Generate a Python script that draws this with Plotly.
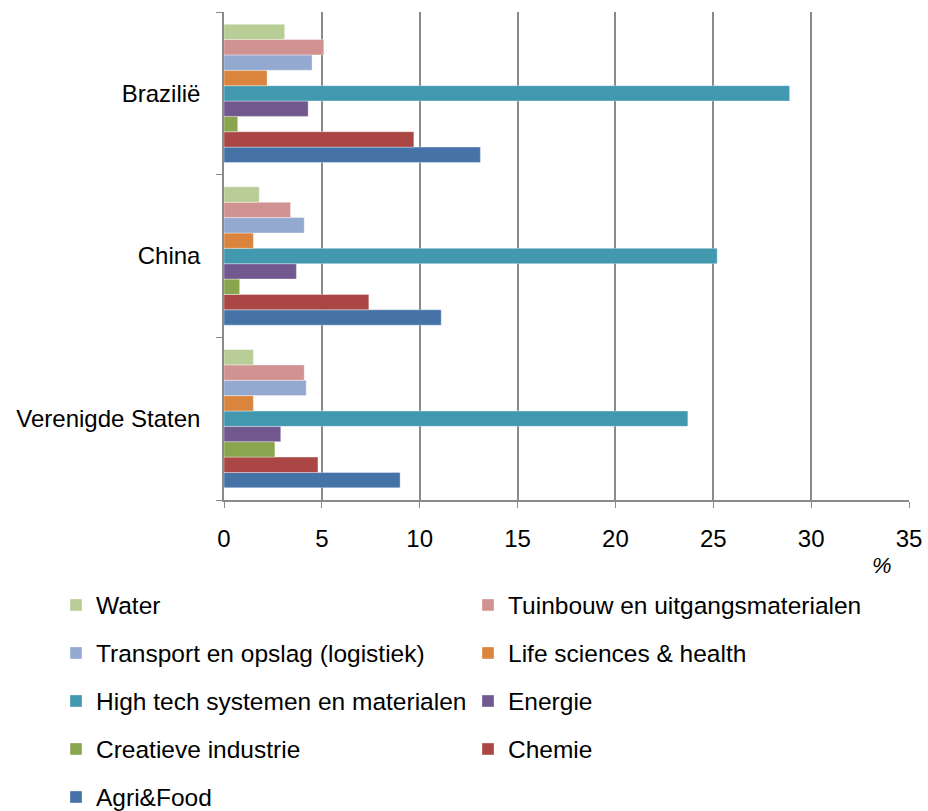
import plotly.graph_objects as go

categories = ["Verenigde Staten", "China", "Brazilië"]

series_names = [
    "Agri&Food", "Chemie", "Creatieve industrie", "Energie",
    "High tech systemen en materialen", "Life sciences & health",
    "Transport en opslag (logistiek)", "Tuinbouw en uitgangsmaterialen", "Water",
]
# values per series, order: Verenigde Staten, China, Brazilië
agri_food = [9.0, 11.1, 13.1]
chemie = [4.8, 7.4, 9.7]
creatieve = [2.6, 0.8, 0.7]
energie = [2.9, 3.7, 4.3]
high_tech = [23.7, 25.2, 28.9]
life_sciences = [1.5, 1.5, 2.2]
transport = [4.2, 4.1, 4.5]
tuinbouw = [4.1, 3.4, 5.1]
water = [1.5, 1.8, 3.1]

series_values = [agri_food, chemie, creatieve, energie, high_tech,
                 life_sciences, transport, tuinbouw, water]
colors = ["#4572A7", "#AA4643", "#89A54E", "#71588F", "#4198AF",
          "#DB843D", "#93A9CF", "#D19392", "#B9CD96"]

x_ticks = [0, 5, 10, 15, 20, 25, 30, 35]

FONT = "Liberation Sans"
FS = 24
LFS = 24.5

# legend positions (pixels) for each series: (text-left x, center y)
legend_pos = {
    "Water": (96, 605),
    "Tuinbouw en uitgangsmaterialen": (508, 605),
    "Transport en opslag (logistiek)": (96, 653),
    "Life sciences & health": (508, 653),
    "High tech systemen en materialen": (96, 701),
    "Energie": (508, 701),
    "Creatieve industrie": (96, 749),
    "Chemie": (508, 749),
    "Agri&Food": (96, 797),
}

L, R, T, B = 224, 19, 12, 311
W, H = 928, 811
pw, ph = W - L - R, H - T - B

fig = go.Figure()
layout_legends = {}
for i, (name, vals, col) in enumerate(zip(series_names, series_values, colors)):
    key = "legend" if i == 0 else f"legend{i+1}"
    fig.add_trace(go.Bar(
        y=categories, x=vals, name=name, orientation="h",
        marker=dict(color=col, line=dict(width=0.6, color="rgba(255,255,255,0.6)")),
        legend=key,
    ))
    tx, ty = legend_pos[name]
    lx = tx - 40
    layout_legends[key] = dict(
        xref="container", yref="container",
        x=lx / W, y=(H - ty) / H, xanchor="left", yanchor="middle",
        font=dict(family=FONT, size=LFS, color="#000000"),
        bgcolor="rgba(0,0,0,0)", borderwidth=0, itemwidth=30,
    )

fig.update_layout(
    width=W, height=H,
    margin=dict(l=L, r=R, t=T, b=B, autoexpand=False),
    paper_bgcolor="white", plot_bgcolor="white",
    barmode="group", bargap=0.15, bargroupgap=0,
    showlegend=True,
    font=dict(family=FONT, size=FS, color="#000000"),
    **layout_legends,
)

fig.update_xaxes(
    range=[0, 35], tickvals=x_ticks, ticktext=[str(v) for v in x_ticks],
    showgrid=True, gridcolor="#8a8a8a", gridwidth=1.5,
    showline=True, linecolor="#8a8a8a", linewidth=1.5,
    ticks="outside", ticklen=6, tickcolor="#8a8a8a", tickwidth=1,
    zeroline=False, ticklabelstandoff=10,
    tickfont=dict(family=FONT, size=FS, color="#000000"),
)
fig.update_yaxes(
    type="category", categoryorder="array", categoryarray=categories,
    range=[-0.5, 2.5],
    showgrid=False, showline=True, linecolor="#8a8a8a", linewidth=1.5,
    ticks="outside", ticklen=6, tickcolor="#8a8a8a", tickwidth=1,
    tickson="boundaries", ticklabelstandoff=17,
    tickfont=dict(family=FONT, size=FS, color="#000000"),
)

fig.add_annotation(
    text="<i>%</i>", xref="paper", yref="paper",
    x=(882 - L) / pw, y=(H - B - 565) / ph, xanchor="center", yanchor="middle",
    showarrow=False, font=dict(family=FONT, size=22, color="#000000"),
)

fig.write_html("out.html")
